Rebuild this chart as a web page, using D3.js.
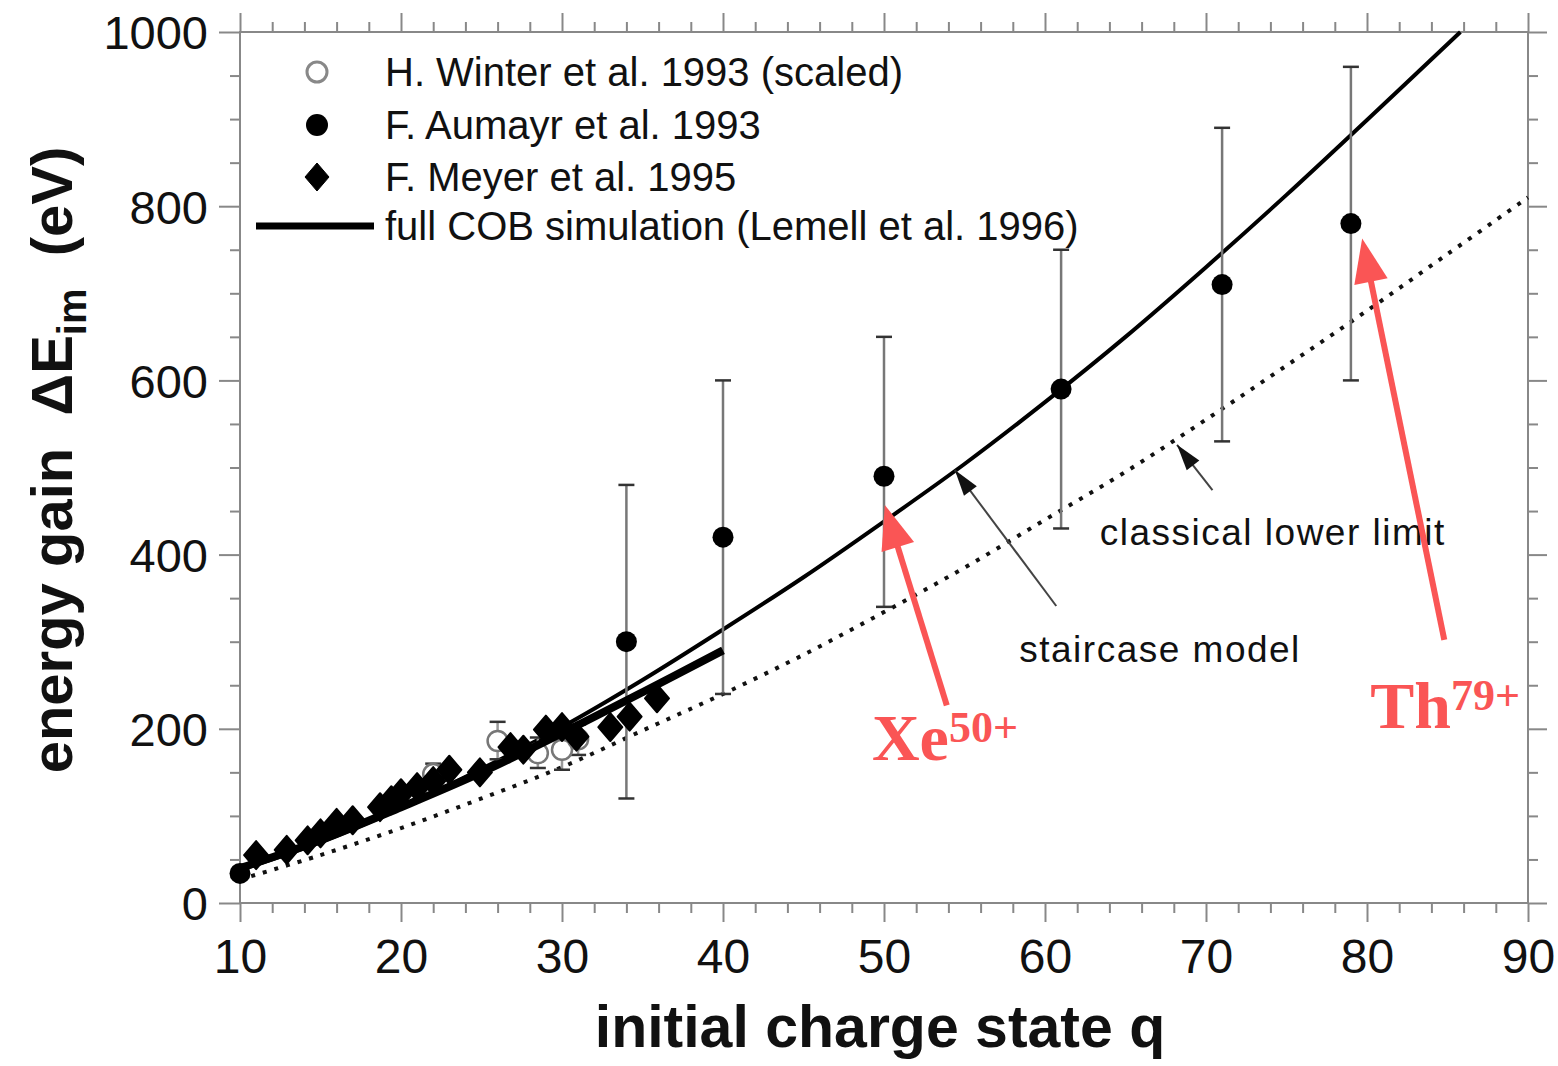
<!DOCTYPE html>
<html><head><meta charset="utf-8">
<script src="https://cdn.jsdelivr.net/npm/d3@7"></script>
<style>
html,body{margin:0;padding:0;background:#fff;}
</style></head>
<body>
<svg id="chart" width="1558" height="1066" style="font-family:'Liberation Sans',Arial,sans-serif"></svg>
<script>
// ---------- data ----------
const xMajorTicks = [10,20,30,40,50,60,70,80,90];
const yMajorTicks = [0,200,400,600,800,1000];

// F. Aumayr et al. 1993 (filled circles with error bars)
const aumayrQ   = [10, 34, 40, 50, 61, 71, 79];
const aumayrE   = [34, 300, 420, 490, 590, 710, 780];
const aumayrLo  = [null, 120, 240, 340, 430, 530, 600];
const aumayrHi  = [null, 480, 600, 650, 750, 890, 960];

// H. Winter et al. 1993 (scaled) (open circles)
const winterQ  = [22, 26, 28.5, 30, 31];
const winterE  = [148, 186, 172, 176, 188];
const winterLo = [135, 165, 155, 153, 170];
const winterHi = [160, 208, 190, 200, 205];

// F. Meyer et al. 1995 (diamonds)
const meyerQ = [11, 12.9, 14.2, 15, 16, 17, 18.7, 19.4, 20, 21, 22, 23, 24.9, 26.8, 27.6, 29, 30, 30.9, 33, 34.2, 35.9];
const meyerE = [55, 61, 72, 80, 92, 95, 110, 118, 126, 133, 140, 153, 150, 179, 176, 199, 202, 191, 202, 214, 235];

// staircase model (thin solid)
const stairQ = [10, 15, 20, 25, 30, 35, 40, 45, 50, 55, 60, 65, 70, 75, 80, 85.8];
const stairE = [38, 70, 109, 154, 202, 256, 314, 374, 438, 504, 575, 650, 730, 813, 899, 1000];

// full COB simulation (thick solid)
const cobQ = [10, 15, 20, 25, 30, 35, 40];
const cobE = [40, 72, 110, 150, 195, 242, 290];

// classical lower limit (dotted)
const classQ = [10, 15, 20, 25, 30, 35, 40, 45, 50, 55, 60, 65, 70, 75, 80, 85, 90];
const classE = [27, 55, 86, 120, 156, 198, 240, 285, 334, 385, 440, 495, 555, 617, 680, 745, 810];

const legendLabels = ["H. Winter et al. 1993 (scaled)", "F. Aumayr et al. 1993", "F. Meyer et al. 1995", "full COB simulation (Lemell et al. 1996)"];

// annotation arrows in data coordinates [tailQ, tailE, tipQ, tipE]
const blackArrows = [[60.7, 341, 54.4, 497], [70.4, 474, 68.2, 526]];
const redArrows = [[53.9, 227, 50.05, 457], [84.8, 302, 79.7, 763]];
const blackLabels = [{t:"staircase model", q:58.4, e:277}, {t:"classical lower limit", q:63.4, e:411}];
const ionLabels = [{base:"Xe", sup:"50+", q:49.25, e:164}, {base:"Th", sup:"79+", q:80.2, e:201}];

// ---------- layout ----------
const svg = d3.select("#chart");
const x = d3.scaleLinear().domain([10,90]).range([240,1528]);
const y = d3.scaleLinear().domain([0,1000]).range([903,32]);
const frameCol = "#888";

const minorX = d3.range(10, 91, 2).filter(v => v % 10 !== 0);
const minorY = d3.range(0, 1001, 50).filter(v => v % 200 !== 0);

function styleAxis(g){
  g.select(".domain").remove();
  g.selectAll(".tick line").attr("stroke", frameCol).attr("stroke-width", 2);
}
// bottom
svg.append("g").attr("transform","translate(0,903)")
  .call(d3.axisBottom(x).tickValues(xMajorTicks).tickSize(19).tickFormat(d3.format("d")))
  .call(styleAxis)
  .call(g=>g.selectAll("text").attr("font-size",48).attr("fill","#111").attr("dy",0).attr("y",70).style("font-family","'Liberation Sans'"));
svg.append("g").attr("transform","translate(0,903)")
  .call(d3.axisBottom(x).tickValues(minorX).tickSize(10).tickFormat(""))
  .call(styleAxis);
// top
svg.append("g").attr("transform","translate(0,32)")
  .call(d3.axisTop(x).tickValues(xMajorTicks).tickSize(19).tickFormat(""))
  .call(styleAxis);
svg.append("g").attr("transform","translate(0,32)")
  .call(d3.axisTop(x).tickValues(minorX).tickSize(10).tickFormat(""))
  .call(styleAxis);
// left
svg.append("g").attr("transform","translate(240,0)")
  .call(d3.axisLeft(y).tickValues(yMajorTicks).tickSize(21).tickFormat(d3.format("d")))
  .call(styleAxis)
  .call(g=>g.selectAll("text").attr("font-size",47).attr("fill","#111").attr("x",-32).attr("dy","0.36em").style("font-family","'Liberation Sans'"));
svg.append("g").attr("transform","translate(240,0)")
  .call(d3.axisLeft(y).tickValues(minorY).tickSize(10).tickFormat(""))
  .call(styleAxis);
// right
svg.append("g").attr("transform","translate(1528,0)")
  .call(d3.axisRight(y).tickValues(yMajorTicks).tickSize(19).tickFormat(""))
  .call(styleAxis);
svg.append("g").attr("transform","translate(1528,0)")
  .call(d3.axisRight(y).tickValues(minorY).tickSize(10).tickFormat(""))
  .call(styleAxis);
// frame
svg.append("rect").attr("x",x(10)).attr("y",y(1000)).attr("width",x(90)-x(10)).attr("height",y(0)-y(1000))
  .attr("fill","none").attr("stroke",frameCol).attr("stroke-width",2);

// axis titles
svg.append("text").attr("x",880).attr("y",1047).attr("text-anchor","middle")
  .attr("font-size",59).attr("font-weight","bold").attr("fill","#111")
  .text("initial charge state q");
const yt = svg.append("text").attr("transform","translate(72,460) rotate(-90)").attr("text-anchor","middle")
  .attr("font-size",58).attr("font-weight","bold").attr("fill","#111");
yt.append("tspan").text("energy gain\u00a0\u00a0ΔE");
yt.append("tspan").attr("font-size",40).attr("dy",14).text("im");
yt.append("tspan").attr("dy",-14).text("\u00a0\u00a0(eV)");

// ---------- lines ----------
const line = d3.line().x(d=>x(d[0])).y(d=>y(d[1])).curve(d3.curveCatmullRom);
svg.append("path").datum(d3.zip(classQ, classE)).attr("d", line)
  .attr("fill","none").attr("stroke","#111").attr("stroke-width",4).attr("stroke-dasharray","4,8");
svg.append("path").datum(d3.zip(stairQ, stairE)).attr("d", line)
  .attr("fill","none").attr("stroke","#000").attr("stroke-width",4);

// error bars
function errorBars(qs, lo, hi, col){
  const data = qs.map((q,i)=>({q, lo:lo[i], hi:hi[i]})).filter(d=>d.lo!=null);
  const g = svg.append("g");
  g.selectAll("line.v").data(data).join("line").attr("x1",d=>x(d.q)).attr("x2",d=>x(d.q))
    .attr("y1",d=>y(d.lo)).attr("y2",d=>y(d.hi)).attr("stroke",col).attr("stroke-width",2.5);
  ["lo","hi"].forEach(k=>{
    g.selectAll("line."+k).data(data).join("line").attr("x1",d=>x(d.q)-8).attr("x2",d=>x(d.q)+8)
      .attr("y1",d=>y(d[k])).attr("y2",d=>y(d[k])).attr("stroke","#333").attr("stroke-width",2.5);
  });
}
errorBars(winterQ, winterLo, winterHi, "#999");
errorBars(aumayrQ, aumayrLo, aumayrHi, "#777");

// Winter open circles
svg.append("g").selectAll("circle").data(d3.zip(winterQ, winterE)).join("circle")
  .attr("cx",d=>x(d[0])).attr("cy",d=>y(d[1])).attr("r",10)
  .attr("fill","#fff").attr("stroke","#777").attr("stroke-width",2.5);

// thick COB line
svg.append("path").datum(d3.zip(cobQ, cobE)).attr("d", line)
  .attr("fill","none").attr("stroke","#000").attr("stroke-width",8);

// Meyer diamonds
const diamond = "M0,-14 L12,0 L0,14 L-12,0 Z";
svg.append("g").selectAll("path").data(d3.zip(meyerQ, meyerE)).join("path")
  .attr("d", diamond).attr("transform",d=>`translate(${x(d[0])},${y(d[1])})`)
  .attr("fill","#000").attr("stroke","#000").attr("stroke-width",2).attr("stroke-linejoin","round");

// Aumayr filled circles
svg.append("g").selectAll("circle").data(d3.zip(aumayrQ, aumayrE)).join("circle")
  .attr("cx",d=>x(d[0])).attr("cy",d=>y(d[1])).attr("r",10.5).attr("fill","#000");

// ---------- legend ----------
const lg = svg.append("g");
const rowsY = [72, 125, 177, 226];
lg.append("circle").attr("cx",317).attr("cy",rowsY[0]).attr("r",10).attr("fill","#fff").attr("stroke","#888").attr("stroke-width",3);
lg.append("circle").attr("cx",317).attr("cy",rowsY[1]).attr("r",11).attr("fill","#000");
lg.append("path").attr("d",diamond).attr("transform",`translate(317,${rowsY[2]})`).attr("fill","#000").attr("stroke","#000").attr("stroke-width",1);
lg.append("line").attr("x1",256).attr("x2",374).attr("y1",rowsY[3]).attr("y2",rowsY[3]).attr("stroke","#000").attr("stroke-width",7);
lg.selectAll("text").data(legendLabels).join("text")
  .attr("x",385).attr("y",(d,i)=>rowsY[i]+14).attr("font-size",40).attr("fill","#111").text(d=>d);

// ---------- annotations ----------
function arrowHead(g, x1,y1,x2,y2, len, wid, col){
  const a = Math.atan2(y2-y1, x2-x1);
  const bx = x2 - len*Math.cos(a), by = y2 - len*Math.sin(a);
  const px = -Math.sin(a)*wid/2, py = Math.cos(a)*wid/2;
  g.append("path").attr("d",`M${x2},${y2} L${bx+px},${by+py} L${bx-px},${by-py} Z`).attr("fill",col);
}
blackArrows.forEach(a=>{
  const x1=x(a[0]), y1=y(a[1]), x2=x(a[2]), y2=y(a[3]);
  svg.append("line").attr("x1",x1).attr("y1",y1).attr("x2",x2).attr("y2",y2).attr("stroke","#444").attr("stroke-width",2);
  arrowHead(svg, x1,y1,x2,y2, 26, 16, "#111");
});
blackLabels.forEach(l=>{
  svg.append("text").attr("x",x(l.q)).attr("y",y(l.e)).attr("font-size",37).attr("fill","#111")
    .attr("letter-spacing",1.5).text(l.t);
});
const red = "#fa5555";
redArrows.forEach(a=>{
  const x1=x(a[0]), y1=y(a[1]), x2=x(a[2]), y2=y(a[3]);
  const ang = Math.atan2(y2-y1,x2-x1);
  svg.append("line").attr("x1",x1).attr("y1",y1).attr("x2",x2-30*Math.cos(ang)).attr("y2",y2-30*Math.sin(ang))
    .attr("stroke",red).attr("stroke-width",6);
  arrowHead(svg, x1,y1,x2,y2, 44, 34, red);
});
ionLabels.forEach(l=>{
  const t = svg.append("text").attr("x",x(l.q)).attr("y",y(l.e))
    .style("font-family","'Liberation Serif','Times New Roman',serif").attr("font-weight","bold").attr("fill",red).attr("font-size",66);
  t.append("tspan").text(l.base);
  t.append("tspan").attr("font-size",44).attr("dy",-18).text(l.sup);
});
</script>
</body></html>
